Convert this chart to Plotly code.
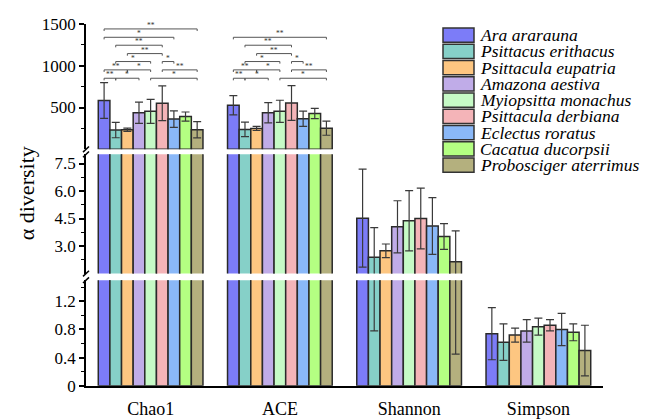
import plotly.graph_objects as go

# ---------------- data ----------------
CATEGORIES = ["Chao1", "ACE", "Shannon", "Simpson"]
SPECIES = ["Ara ararauna", "Psittacus erithacus", "Psittacula eupatria", "Amazona aestiva",
           "Myiopsitta monachus", "Psittacula derbiana", "Eclectus roratus",
           "Cacatua ducorpsii", "Probosciger aterrimus"]
COLORS = ["#7C7CF8", "#86D0C8", "#FDC681", "#C0ACE8", "#C6FAC6",
          "#F4B4B8", "#8AB8F8", "#B4FF82", "#B4B07E"]

CHAO1_MEAN = [584, 230, 234, 438, 454, 550, 361, 392, 234]
CHAO1_SD = [214, 92, 20, 127, 144, 208, 98, 54, 98]
ACE_MEAN = [527, 238, 249, 438, 454, 553, 365, 428, 253]
ACE_SD = [116, 87, 24, 121, 133, 208, 92, 62, 85]
SHANNON_MEAN = [4.52, 2.39, 2.74, 4.05, 4.38, 4.50, 4.09, 3.52, 2.14]
SHANNON_SD = [2.67, 1.61, 0.37, 1.42, 1.64, 1.66, 1.55, 0.70, 1.69]
SIMPSON_MEAN = [0.74, 0.62, 0.72, 0.78, 0.84, 0.86, 0.80, 0.76, 0.50]
SIMPSON_SD = [0.37, 0.26, 0.10, 0.16, 0.12, 0.08, 0.23, 0.12, 0.36]

# significance brackets: (bar i, bar j, label, level index)
SIG_LEVELS = [850, 950, 1050, 1145, 1245, 1340, 1440]
CHAO1_SIG = [(0, 8, "**", 6), (0, 6, "*", 5), (1, 5, "**", 4), (2, 5, "**", 3),
             (1, 4, "*", 2), (5, 6, "*", 2), (0, 2, "**", 1), (2, 4, "*", 1),
             (5, 8, "**", 1), (0, 1, "**", 0), (1, 3, "*", 0), (4, 8, "*", 0)]
ACE_SIG = [(0, 8, "**", 5), (1, 5, "**", 4), (2, 5, "**", 3),
           (1, 4, "*", 2), (5, 6, "*", 2), (0, 2, "**", 1), (2, 4, "*", 1),
           (5, 8, "**", 1), (0, 1, "**", 0), (1, 3, "*", 0), (4, 8, "*", 0)]

Y_TITLE = "α diversity"

# ---------------- layout helpers ----------------
W, H = 661, 419
FONT = "Liberation Serif"


def pxx(x):
    return x / W


def pxy(y):
    return 1 - y / H


X_LEFT, X_RIGHT = 86, 603
BARGAP = 0.19
BW = (1 - BARGAP) / len(SPECIES)

# segments of the broken axis: axis id, range, pixel bottom, pixel top, visible categories
SEGMENTS = [
    dict(ax="y", rng=[0, 1.5], pb=396.7, pt=285.5, ncat=4,
         tickvals=[0, 0.4, 0.8, 1.2], ticktext=["0", "0.4", "0.8", "1.2"],
         minor=[0.2, 0.6, 1.0, 1.4]),
    dict(ax="y2", rng=[1.5, 8.0], pb=278.5, pt=153.0, ncat=3,
         tickvals=[3.0, 4.5, 6.0, 7.5], ticktext=["3.0", "4.5", "6.0", "7.5"],
         minor=[2.25, 3.75, 5.25, 6.75]),
    dict(ax="y3", rng=[0, 1500], pb=147.7, pt=15.7, ncat=2,
         tickvals=[500, 1000, 1500], ticktext=["500", "1000", "1500"],
         minor=[250, 750, 1250]),
]

fig = go.Figure()
means = [CHAO1_MEAN, ACE_MEAN, SHANNON_MEAN, SIMPSON_MEAN]
sds = [CHAO1_SD, ACE_SD, SHANNON_SD, SIMPSON_SD]

for seg in SEGMENTS:
    for s, name in enumerate(SPECIES):
        ys = [means[c][s] if c < seg["ncat"] else None for c in range(4)]
        es = [sds[c][s] if c < seg["ncat"] else None for c in range(4)]
        fig.add_trace(go.Bar(
            x=list(range(4)), y=ys, name=name, showlegend=False,
            xaxis="x", yaxis=seg["ax"],
            marker=dict(color=COLORS[s], line=dict(color="#2a2a2a", width=1.5)),
            error_y=dict(type="data", array=es, visible=True, color="#3a3a3a",
                         thickness=1.2, width=4),
            hoverinfo="skip",
        ))

layout = dict(
    width=W, height=H, margin=dict(l=0, r=0, t=0, b=0),
    paper_bgcolor="white", plot_bgcolor="rgba(0,0,0,0)",
    barmode="group", bargap=BARGAP, bargroupgap=0,
    font=dict(family=FONT, color="black", size=17),
    xaxis=dict(domain=[pxx(X_LEFT), pxx(X_RIGHT)], range=[-0.5, 3.5],
               tickvals=list(range(4)), ticktext=CATEGORIES, ticks="",
               ticklabelstandoff=6,
               showline=True, linecolor="black", linewidth=1.5, showgrid=False,
               zeroline=False, anchor="y", tickfont=dict(size=18, family=FONT, color="black"),
               fixedrange=True),
    showlegend=False,
)
for seg in SEGMENTS:
    key = "yaxis" if seg["ax"] == "y" else "yaxis" + seg["ax"][1:]
    layout[key] = dict(
        domain=[pxy(seg["pb"]), pxy(seg["pt"])], range=seg["rng"], anchor="x",
        tickvals=seg["tickvals"], ticktext=seg["ticktext"], ticks="outside",
        ticklen=5, tickwidth=1.5, tickcolor="black",
        minor=dict(tickvals=seg["minor"], ticks="outside", ticklen=3, tickwidth=1.2,
                   tickcolor="black"),
        showline=True, linecolor="black", linewidth=1.5, showgrid=False, zeroline=False,
        tickfont=dict(size=17, family=FONT, color="black"), fixedrange=True,
    )
fig.update_layout(**layout)

shapes = []
annotations = []


def barx(cat, i):
    return cat + (i - (len(SPECIES) - 1) / 2) * BW


# significance brackets on the top segment
TICK_DOWN = 25
for cat, sig in ((0, CHAO1_SIG), (1, ACE_SIG)):
    for i, j, lab, lev in sig:
        x0, x1 = barx(cat, i), barx(cat, j)
        yv = SIG_LEVELS[lev]
        shapes.append(dict(type="path", xref="x", yref="y3",
                           path=f"M{x0},{yv - TICK_DOWN} L{x0},{yv} L{x1},{yv} L{x1},{yv - TICK_DOWN}",
                           line=dict(color="#555555", width=1)))
        annotations.append(dict(x=(x0 + x1) / 2, y=yv, xref="x", yref="y3", text=lab,
                                showarrow=False, yanchor="bottom", yshift=-2, borderpad=0,
                                font=dict(size=7.5, color="#333333", family=FONT)))

# axis-break marks
for e in (147.7, 153.0, 278.5, 285.5):
    shapes.append(dict(type="line", xref="paper", yref="paper",
                       x0=pxx(X_LEFT - 3), y0=pxy(e + 3), x1=pxx(X_LEFT + 3), y1=pxy(e - 3),
                       line=dict(color="black", width=1.5)))

# custom legend
LEG_X0, LEG_X1, LEG_Y0, LEG_PITCH, LEG_H = 443, 474, 20, 17.1, 15
for s, name in enumerate(SPECIES):
    y0 = LEG_Y0 + s * LEG_PITCH
    shapes.append(dict(type="rect", xref="paper", yref="paper",
                       x0=pxx(LEG_X0), x1=pxx(LEG_X1), y0=pxy(y0 + LEG_H), y1=pxy(y0),
                       fillcolor=COLORS[s], line=dict(color="#333333", width=1.5)))
    annotations.append(dict(x=pxx(479), y=pxy(y0 + LEG_H / 2), xref="paper", yref="paper",
                            text=f"<i>{name}</i>", showarrow=False, xanchor="left",
                            yanchor="middle", borderpad=0,
                            font=dict(size=17.5, family=FONT, color="black")))

# y-axis title
annotations.append(dict(x=pxx(26), y=pxy(194), xref="paper", yref="paper", text=Y_TITLE,
                        showarrow=False, textangle=-90, xanchor="center", yanchor="middle",
                        font=dict(size=22, family=FONT, color="black")))

fig.update_layout(shapes=shapes, annotations=annotations)
fig.write_html("out.html")
